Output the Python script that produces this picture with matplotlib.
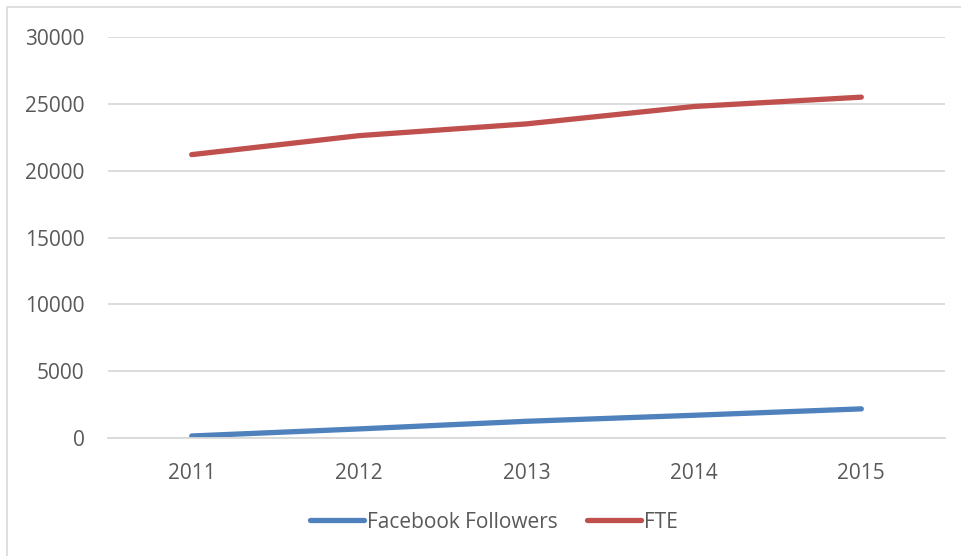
import matplotlib.pyplot as plt
from matplotlib.patches import Rectangle

years = ['2011', '2012', '2013', '2014', '2015']
facebook_followers = [150, 680, 1250, 1700, 2180]
fte = [21200, 22620, 23500, 24800, 25500]
y_ticks = [0, 5000, 10000, 15000, 20000, 25000, 30000]

plt.rcParams['font.family'] = ['Open Sans', 'DejaVu Sans']
text_color = '#595959'

fig = plt.figure(figsize=(9.62, 5.56), dpi=100)
ax = fig.add_axes([108 / 962, 1 - 438 / 556, (945 - 108) / 962, (438 - 37) / 556])

# outer chart border (only left/top visible in the reference)
fig.patches.append(Rectangle((7 / 962, -0.05), 1.2, 1 - 7 / 556 + 0.05,
                             transform=fig.transFigure, fill=False,
                             edgecolor='#D9D9D9', linewidth=1.2))

x = list(range(1, len(years) + 1))
ax.plot(x, facebook_followers, color='#4F81BD', linewidth=3.8,
        solid_capstyle='round', label='Facebook Followers')
ax.plot(x, fte, color='#C0504D', linewidth=3.8,
        solid_capstyle='round', label='FTE')

ax.set_xlim(0.5, len(years) + 0.5)
ax.set_ylim(0, 30000)
ax.set_yticks(y_ticks)
ax.set_yticklabels([str(v) for v in y_ticks])
ax.set_xticks(x)
ax.set_xticklabels(years)

ax.grid(axis='y', color='#D9D9D9', linewidth=1.3)
ax.set_axisbelow(True)
for side in ['top', 'right', 'left']:
    ax.spines[side].set_visible(False)
ax.spines['bottom'].set_color('#D9D9D9')
ax.spines['bottom'].set_linewidth(1.3)
ax.tick_params(axis='both', length=0, colors=text_color, labelsize=15)
ax.tick_params(axis='y', pad=17)
ax.tick_params(axis='x', pad=18)

ax.legend(loc='center', bbox_to_anchor=(494 / 962, 1 - 522 / 556),
          bbox_transform=fig.transFigure, ncol=2, frameon=False,
          fontsize=15, labelcolor=text_color, handlelength=2.6,
          handletextpad=0.15, columnspacing=1.4)

fig.savefig('out.png', dpi=100)
